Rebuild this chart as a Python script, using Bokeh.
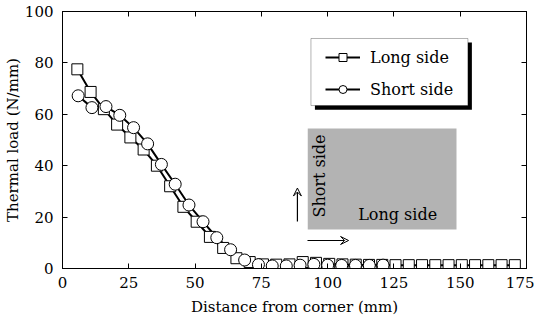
import math
from bokeh.plotting import figure
from bokeh.models import (Range1d, LinearAxis, FixedTicker, Legend, LegendItem,
                          BoxAnnotation, Arrow, VeeHead, Label, ColumnDataSource)
from bokeh.embed import file_html
from bokeh.resources import INLINE

# ---- data ----
long_x = [5.6, 10.6, 15.6, 20.6, 25.6, 30.6, 35.6, 40.6, 45.6, 50.6, 55.6, 60.6,
          65.6, 70.6, 75.6, 80.6, 85.6, 90.6, 95.6, 100.6, 105.6, 110.6, 115.6,
          120.6, 125.6, 130.6, 135.6, 140.6, 145.6, 150.6, 155.6, 160.6, 165.6, 170.6]
long_y = [77.5, 68.7, 62.0, 56.0, 51.0, 46.3, 40.0, 32.0, 24.0, 18.2, 12.3, 8.0,
          4.0, 2.5, 1.6, 1.5, 1.6, 2.5, 2.2, 1.8, 1.6, 1.5, 1.4, 1.4, 1.3, 1.3,
          1.3, 1.3, 1.3, 1.3, 1.3, 1.3, 1.3, 1.3]
short_x = [5.9, 11.1, 16.4, 21.6, 26.8, 32.1, 37.3, 42.5, 47.7, 53.0, 58.2, 63.4,
           68.7, 73.9, 79.1, 84.4, 89.6, 94.8, 100.0, 105.3, 110.5, 115.7, 120.9]
short_y = [67.2, 62.6, 63.0, 59.6, 54.8, 48.5, 40.5, 32.8, 24.7, 18.2, 12.0, 7.3,
           3.3, 1.5, 1.0, 1.0, 1.3, 1.6, 1.3, 1.2, 1.2, 1.2, 1.3]
x_ticks = [0, 25, 50, 75, 100, 125, 150, 175]
y_ticks = [0, 20, 40, 60, 80, 100]
series_names = ["Long side", "Short side"]

FONT = "DejaVu Serif"

p = figure(frame_width=464, frame_height=257, output_backend="svg", toolbar_location=None,
           x_range=Range1d(0, 175), y_range=Range1d(0, 100),
           min_border_left=61, min_border_right=8, min_border_top=11,
           min_border_bottom=42, x_axis_label="Distance from corner (mm)",
           y_axis_label="Thermal load (N/mm)")
p.grid.visible = False
p.outline_line_color = "black"
p.outline_line_width = 1
p.background_fill_color = "white"
p.border_fill_color = "white"

for ax, ticks in ((p.xaxis[0], x_ticks), (p.yaxis[0], y_ticks)):
    ax.ticker = FixedTicker(ticks=ticks)
    ax.major_tick_in = 5
    ax.major_tick_out = 0
    ax.minor_tick_line_color = None
    ax.axis_line_color = "black"
    ax.major_label_text_font = FONT
    ax.major_label_text_font_size = "15px"
    ax.major_label_text_color = "black"
    ax.axis_label_text_font = FONT
    ax.axis_label_text_font_size = "15px"
    ax.axis_label_text_font_style = "normal"
    ax.axis_label_text_color = "black"
p.xaxis[0].major_label_standoff = 8
p.xaxis[0].axis_label_standoff = 7
p.yaxis[0].major_label_standoff = 9
p.yaxis[0].axis_label_standoff = 0

top_ax = LinearAxis(ticker=FixedTicker(ticks=x_ticks), major_tick_in=5, major_tick_out=0,
                    minor_tick_line_color=None, major_label_standoff=0,
                    major_label_overrides={t: "" for t in x_ticks})
right_ax = LinearAxis(ticker=FixedTicker(ticks=y_ticks), major_tick_in=5, major_tick_out=0,
                      minor_tick_line_color=None, major_label_standoff=0,
                      major_label_overrides={t: "" for t in y_ticks})
p.add_layout(top_ax, "above")
p.add_layout(right_ax, "right")

# ---- inset annotation (rectangle sketch) ----
p.add_layout(BoxAnnotation(left=92.5, right=148.6, bottom=15.2, top=54.5,
                           fill_color="#b3b3b3", fill_alpha=1.0, line_color=None))
p.add_layout(Arrow(end=VeeHead(size=8, line_color="black", line_width=1, fill_color=None),
                   x_start=88.6, y_start=18.3, x_end=88.6, y_end=31.3,
                   line_color="black", line_width=1.2))
p.add_layout(Arrow(end=VeeHead(size=8, line_color="black", line_width=1, fill_color=None),
                   x_start=92.4, y_start=10.9, x_end=107.9, y_end=10.9,
                   line_color="black", line_width=1.2))
p.add_layout(Label(x=96.9, y=36.0, text="Short side", angle=math.pi / 2,
                   text_font=FONT, text_font_size="16px", text_align="center",
                   text_baseline="middle", text_color="black"))
p.add_layout(Label(x=126.4, y=21.1, text="Long side",
                   text_font=FONT, text_font_size="16px", text_align="center",
                   text_baseline="middle", text_color="black"))

# ---- data series ----
src_l = ColumnDataSource(dict(x=long_x, y=long_y))
src_s = ColumnDataSource(dict(x=short_x, y=short_y))
ll = p.line("x", "y", source=src_l, line_color="black", line_width=2)
sl = p.line("x", "y", source=src_s, line_color="black", line_width=2)
lm = p.scatter("x", "y", source=src_l, marker="square", size=11,
               fill_color="white", line_color="black", line_width=1)
sm = p.scatter("x", "y", source=src_s, marker="circle", size=12,
               fill_color="white", line_color="black", line_width=1)

# legend box with drop shadow
p.add_layout(BoxAnnotation(left=95.2, right=154.4, bottom=61.8, top=87.9,
                           fill_color="black", fill_alpha=1.0, line_color=None))
p.add_layout(BoxAnnotation(left=93.7, right=152.9, bottom=63.4, top=89.5,
                           fill_color="white", fill_alpha=1.0, line_color="black",
                           line_width=1))
legend = Legend(items=[LegendItem(label=series_names[0], renderers=[ll, lm]),
                       LegendItem(label=series_names[1], renderers=[sl, sm])],
                location=(263, 169), orientation="vertical",
                border_line_color=None, background_fill_alpha=0.0,
                label_text_font=FONT, label_text_font_size="16px",
                label_text_color="black", glyph_width=35, glyph_height=20,
                label_standoff=10, padding=0, spacing=12, margin=0)
p.add_layout(legend, "center")

open("out.html", "w").write(file_html(p, INLINE))
